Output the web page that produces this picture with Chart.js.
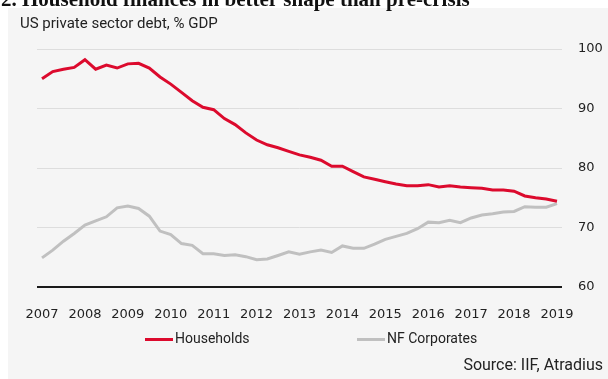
<!DOCTYPE html>
<html>
<head>
<meta charset="utf-8">
<script src="https://cdn.jsdelivr.net/npm/chart.js@4/dist/chart.umd.min.js"></script>
<style>
  html, body { margin: 0; padding: 0; background: #ffffff; }
  #wrap { position: relative; width: 608px; height: 379px; }
</style>
</head>
<body>
<div id="wrap"><canvas id="debt-chart" width="608" height="379"></canvas></div>
<script>
// Year axis labels
var years = [2007, 2008, 2009, 2010, 2011, 2012, 2013, 2014, 2015, 2016, 2017, 2018, 2019];

// Quarterly observations, 2007 Q1 .. 2019 Q1
var quarters = [];
years.forEach(function(y) {
  for (var q = 1; q <= 4; q++) {
    if (y === 2019 && q > 1) break;
    quarters.push(y + ' Q' + q);
  }
});

// Household debt, % GDP
var households = [
  95.0, 96.2, 96.6, 96.9, 98.2, 96.6, 97.3, 96.8, 97.5, 97.6, 96.8, 95.3,
  94.1, 92.7, 91.3, 90.2, 89.8, 88.3, 87.3, 85.9, 84.7, 83.9, 83.4, 82.8,
  82.2, 81.8, 81.3, 80.3, 80.3, 79.4, 78.5, 78.1, 77.7, 77.3, 77.0, 77.0,
  77.2, 76.8, 77.0, 76.8, 76.7, 76.6, 76.3, 76.3, 76.1, 75.3, 75.0, 74.8,
  74.4
];

// Non-financial corporate debt, % GDP
var corporates = [
  64.9, 66.2, 67.7, 69.0, 70.4, 71.1, 71.8, 73.3, 73.6, 73.2, 71.9, 69.4,
  68.8, 67.3, 67.0, 65.6, 65.6, 65.3, 65.4, 65.1, 64.6, 64.7, 65.3, 65.9,
  65.5, 65.9, 66.2, 65.8, 66.9, 66.5, 66.5, 67.2, 68.0, 68.5, 69.0, 69.8,
  70.9, 70.8, 71.2, 70.8, 71.6, 72.1, 72.3, 72.6, 72.7, 73.5, 73.4, 73.4,
  74.0
];

var yTicks = [60, 70, 80, 90, 100];

var RED = '#dc0a2d';
var GREY = '#c0c0c0';
var TEXT = '#222222';

// "2007 Q3" -> 2007.5
function quarterToYear(label) {
  var parts = label.split(' Q');
  return parseInt(parts[0], 10) + (parseInt(parts[1], 10) - 1) / 4;
}

function toPoints(values) {
  return values.map(function(v, i) {
    return { x: quarterToYear(quarters[i]), y: v };
  });
}

// Panel background, headings, legend and source note
var decorations = {
  id: 'decorations',
  beforeDraw: function(chart) {
    var ctx = chart.ctx;
    ctx.save();
    ctx.fillStyle = '#ffffff';
    ctx.fillRect(0, 0, chart.width, chart.height);
    ctx.fillStyle = '#f5f5f5';
    ctx.fillRect(8, 8, chart.width - 8, chart.height - 8);

    // page heading, clipped by the top edge
    ctx.fillStyle = '#111111';
    ctx.font = 'bold 21px "Liberation Serif", serif';
    ctx.textBaseline = 'alphabetic';
    ctx.textAlign = 'left';
    ctx.fillText('2. Household finances in better shape than pre-crisis', 1, 6);

    ctx.fillStyle = TEXT;
    ctx.font = '15px Roboto, sans-serif';
    ctx.textBaseline = 'middle';
    ctx.fillText('US private sector debt, % GDP', 20, 24);
    ctx.restore();
  },
  afterDraw: function(chart) {
    var ctx = chart.ctx;
    var items = [
      { x: 145, text: chart.data.datasets[0].label, color: chart.data.datasets[0].borderColor },
      { x: 357, text: chart.data.datasets[1].label, color: chart.data.datasets[1].borderColor }
    ];
    ctx.save();
    ctx.font = '14px Roboto, sans-serif';
    ctx.textBaseline = 'middle';
    items.forEach(function(it) {
      ctx.fillStyle = it.color;
      ctx.fillRect(it.x, 338, 28, 3);
      ctx.fillStyle = TEXT;
      ctx.textAlign = 'left';
      ctx.fillText(it.text, it.x + 30, 339);
    });
    ctx.font = '16px Roboto, sans-serif';
    ctx.textAlign = 'right';
    ctx.fillText('Source: IIF, Atradius', 603, 366);
    ctx.restore();
  }
};

var chart = new Chart(document.getElementById('debt-chart'), {
  type: 'line',
  data: {
    datasets: [
      {
        label: 'Households',
        data: toPoints(households),
        borderColor: RED,
        backgroundColor: RED,
        borderWidth: 3,
        pointRadius: 0,
        tension: 0
      },
      {
        label: 'NF Corporates',
        data: toPoints(corporates),
        borderColor: GREY,
        backgroundColor: GREY,
        borderWidth: 3,
        pointRadius: 0,
        tension: 0
      }
    ]
  },
  options: {
    responsive: false,
    animation: false,
    layout: { padding: { left: 37, top: 49, right: 0, bottom: 0 } },
    plugins: {
      legend: { display: false },
      tooltip: { enabled: false }
    },
    scales: {
      x: {
        type: 'linear',
        min: 2007 - 0.117,
        max: 2019 + 0.117,
        afterBuildTicks: function(scale) {
          scale.ticks = years.map(function(y) { return { value: y }; });
        },
        afterFit: function(scale) { scale.height = 92; },
        grid: { display: false },
        border: { display: false },
        ticks: {
          autoSkip: false,
          maxRotation: 0,
          padding: 12,
          color: TEXT,
          font: { family: '"DejaVu Sans"', size: 13 },
          callback: function(v) { return String(v); }
        }
      },
      y: {
        position: 'right',
        min: 60,
        max: 100,
        afterBuildTicks: function(scale) {
          scale.ticks = yTicks.map(function(v) { return { value: v }; });
        },
        afterFit: function(scale) { scale.width = 46; },
        border: { display: false },
        grid: {
          drawTicks: false,
          color: function(c) { return c.tick && c.tick.value === 60 ? '#1a1a1a' : '#dddddd'; },
          lineWidth: function(c) { return c.tick && c.tick.value === 60 ? 2 : 1; }
        },
        ticks: {
          padding: 16,
          color: TEXT,
          font: { family: '"DejaVu Sans"', size: 13 }
        }
      }
    }
  },
  plugins: [decorations]
});
</script>
</body>
</html>
